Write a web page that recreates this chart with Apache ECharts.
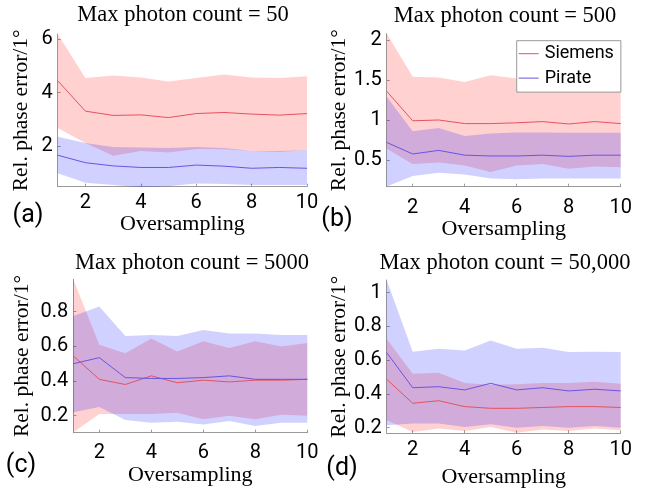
<!DOCTYPE html>
<html><head><meta charset="utf-8">
<script src="https://cdn.jsdelivr.net/npm/echarts@6/dist/echarts.min.js"></script>
<style>html,body{margin:0;padding:0;background:#fff}#c{width:648px;height:492px}</style>
</head><body><div id="c"></div>
<script>
// ---- data ----
const oversampling = ['1','2','3','4','5','6','7','8','9','10'];
const xTickLabels = ['2','4','6','8','10'];

// (a) max photon count = 50
const aSiemensMean = [4.45, 3.31, 3.15, 3.17, 3.07, 3.22, 3.26, 3.2, 3.16, 3.22];
const aSiemensUpper = [6.2, 4.55, 4.65, 4.57, 4.42, 4.55, 4.68, 4.57, 4.55, 4.62];
const aSiemensLower = [2.68, 2.12, 1.64, 1.82, 1.76, 1.89, 1.88, 1.82, 1.78, 1.85];
const aPirateMean = [1.66, 1.38, 1.26, 1.2, 1.2, 1.29, 1.25, 1.17, 1.2, 1.17];
const aPirateUpper = [2.35, 2.12, 1.97, 1.95, 1.93, 1.97, 1.93, 1.82, 1.82, 1.85];
const aPirateLower = [0.98, 0.63, 0.54, 0.46, 0.5, 0.6, 0.58, 0.54, 0.54, 0.54];
const aYTicks = [2, 4, 6];

// (b) max photon count = 500
const bSiemensMean = [1.36, 0.99, 1.0, 0.955, 0.955, 0.965, 0.98, 0.95, 0.98, 0.955];
const bSiemensUpper = [2.08, 1.54, 1.53, 1.475, 1.56, 1.52, 1.51, 1.5, 1.5, 1.5];
const bSiemensLower = [0.64, 0.45, 0.47, 0.43, 0.35, 0.43, 0.45, 0.39, 0.42, 0.41];
const bPirateMean = [0.72, 0.575, 0.62, 0.56, 0.55, 0.55, 0.56, 0.545, 0.56, 0.56];
const bPirateUpper = [1.29, 0.86, 0.9, 0.8, 0.83, 0.845, 0.845, 0.84, 0.84, 0.84];
const bPirateLower = [0.17, 0.3, 0.34, 0.32, 0.27, 0.26, 0.27, 0.27, 0.27, 0.27];
const bYTicks = [0.5, 1, 1.5, 2];

// (c) max photon count = 5000
const cSiemensMean = [0.545, 0.41, 0.38, 0.43, 0.39, 0.405, 0.395, 0.405, 0.405, 0.41];
const cSiemensUpper = [0.987, 0.61, 0.56, 0.645, 0.57, 0.63, 0.59, 0.63, 0.6, 0.62];
const cSiemensLower = [0.105, 0.21, 0.21, 0.21, 0.217, 0.18, 0.2, 0.18, 0.205, 0.2];
const cPirateMean = [0.5, 0.535, 0.42, 0.415, 0.415, 0.42, 0.43, 0.41, 0.41, 0.41];
const cPirateUpper = [0.775, 0.83, 0.66, 0.665, 0.66, 0.695, 0.675, 0.675, 0.665, 0.665];
const cPirateLower = [0.22, 0.25, 0.175, 0.16, 0.165, 0.15, 0.17, 0.14, 0.16, 0.16];
const cYTicks = [0.2, 0.4, 0.6, 0.8];

// (d) max photon count = 50,000
const dSiemensMean = [0.487, 0.345, 0.36, 0.325, 0.315, 0.315, 0.32, 0.325, 0.325, 0.32];
const dSiemensUpper = [0.726, 0.52, 0.525, 0.465, 0.455, 0.457, 0.465, 0.465, 0.473, 0.46];
const dSiemensLower = [0.245, 0.175, 0.195, 0.18, 0.205, 0.17, 0.19, 0.18, 0.195, 0.185];
const dPirateMean = [0.645, 0.437, 0.443, 0.424, 0.463, 0.424, 0.437, 0.418, 0.428, 0.418];
const dPirateUpper = [1.075, 0.65, 0.668, 0.657, 0.716, 0.668, 0.674, 0.649, 0.65, 0.649];
const dPirateLower = [0.215, 0.225, 0.225, 0.205, 0.22, 0.2, 0.21, 0.2, 0.21, 0.2];
const dYTicks = [0.2, 0.4, 0.6, 0.8, 1];

const titles = ['Max photon count = 50', 'Max photon count = 500', 'Max photon count = 5000', 'Max photon count = 50,000'];
const panelLabels = ['(a)', '(b)', '(c)', '(d)'];
const seriesNames = ['Siemens', 'Pirate'];
const xName = 'Oversampling';
const yName = 'Rel. phase error/1°';

// ---- layout / style ----
const SERIF = '"Liberation Serif", "Times New Roman", serif';
const SANS = 'Roboto, "Noto Sans", sans-serif';
const RED = 'rgb(228,82,96)';
const BLUE = 'rgb(104,84,228)';
const RED_FILL = 'rgba(255,0,0,0.18)';
const BLUE_FILL = 'rgba(0,0,255,0.18)';
const AXIS_COLOR = '#9a9a9a';

const panels = [
  {data:[aSiemensMean,aSiemensLower,aSiemensUpper,aPirateMean,aPirateLower,aPirateUpper], ticks:aYTicks,
   grid:{left:57.7, top:34, width:249.3, height:152.7}, ymin:0.48, ymax:6.2,
   xMargin:6, xGap:23, yGap:25, title:[183,15], lab:[28,216]},
  {data:[bSiemensMean,bSiemensLower,bSiemensUpper,bPirateMean,bPirateLower,bPirateUpper], ticks:bYTicks,
   grid:{left:386.7, top:33.6, width:234, height:153.1}, ymin:0.166, ymax:2.08,
   xMargin:11, xGap:30, yGap:36, title:[505,16.5], lab:[337,220]},
  {data:[cSiemensMean,cSiemensLower,cSiemensUpper,cPirateMean,cPirateLower,cPirateUpper], ticks:cYTicks,
   grid:{left:73.3, top:279.3, width:234, height:153.4}, ymin:0.102, ymax:0.987,
   xMargin:10, xGap:32, yGap:40, title:[192,263], lab:[21,466]},
  {data:[dSiemensMean,dSiemensLower,dSiemensUpper,dPirateMean,dPirateLower,dPirateUpper], ticks:dYTicks,
   grid:{left:386.7, top:280, width:234, height:153.3}, ymin:0.167, ymax:1.075,
   xMargin:7, xGap:33, yGap:36, title:[505,263], lab:[342,469]}
];

const grid = [], xAxis = [], yAxis = [], series = [], graphic = [];
const evenIdx = (i) => oversampling[i] !== undefined && xTickLabels.indexOf(oversampling[i]) >= 0;

panels.forEach((p, k) => {
  grid.push(Object.assign({containLabel:false}, p.grid));
  xAxis.push({
    gridIndex:k, type:'category', data:oversampling, boundaryGap:false,
    name:xName, nameLocation:'middle', nameGap:p.xGap,
    nameTextStyle:{fontFamily:SERIF, fontSize:22, color:'#000'},
    axisLine:{lineStyle:{color:AXIS_COLOR, width:1}},
    axisTick:{inside:true, length:3, lineStyle:{color:AXIS_COLOR}, interval:(i)=>evenIdx(i)},
    axisLabel:{interval:(i)=>evenIdx(i), margin:p.xMargin, fontFamily:SANS, fontSize:20, color:'#000'},
    splitLine:{show:false}
  });
  yAxis.push({
    gridIndex:k, type:'value', min:p.ymin, max:p.ymax,
    name:yName, nameLocation:'middle', nameGap:p.yGap, nameRotate:90,
    nameTextStyle:{fontFamily:SERIF, fontSize:21.5, color:'#000'},
    axisLine:{show:true, lineStyle:{color:AXIS_COLOR, width:1}},
    axisTick:{show:true, inside:true, length:3, lineStyle:{color:AXIS_COLOR}, customValues:p.ticks},
    axisLabel:{customValues:p.ticks, margin:5, fontFamily:SANS, fontSize:20, color:'#000'},
    splitLine:{show:false}
  });
  const [sm, sl, su, pm, pl, pu] = p.data;
  const band = (lo, up, fill, id) => {
    series.push({type:'line', xAxisIndex:k, yAxisIndex:k, stack:id, data:lo.slice(),
      symbol:'none', lineStyle:{opacity:0}, silent:true, z:1});
    series.push({type:'line', xAxisIndex:k, yAxisIndex:k, stack:id, data:up.map((v,i)=>v-lo[i]),
      symbol:'none', lineStyle:{opacity:0}, areaStyle:{color:fill, opacity:1}, silent:true, z:1});
  };
  band(sl, su, RED_FILL, 'sie'+k);
  band(pl, pu, BLUE_FILL, 'pir'+k);
  series.push({name:seriesNames[0], type:'line', xAxisIndex:k, yAxisIndex:k, data:sm.slice(), symbol:'none',
    color:RED, lineStyle:{color:RED, width:1}, z:3});
  series.push({name:seriesNames[1], type:'line', xAxisIndex:k, yAxisIndex:k, data:pm.slice(), symbol:'none',
    color:BLUE, lineStyle:{color:BLUE, width:1}, z:3});
  graphic.push({type:'text', x:p.title[0], y:p.title[1], style:{text:titles[k], font:'22.5px ' + SERIF,
    fill:'#000', textAlign:'center', textVerticalAlign:'middle'}});
  graphic.push({type:'text', x:p.lab[0], y:p.lab[1], style:{text:panelLabels[k], font:'25px ' + SANS,
    fill:'#000', textAlign:'center', textVerticalAlign:'middle'}});
});

const chart = echarts.init(document.getElementById('c'), null, {renderer:'canvas'});
chart.setOption({
  animation:false,
  backgroundColor:'#fff',
  grid, xAxis, yAxis, series, graphic,
  legend:{
    data:seriesNames, orient:'vertical', left:516.7, top:40.7,
    icon:'path://M0,0L20,0L20,1L0,1Z', itemWidth:22, itemHeight:1, itemGap:6.4,
    padding:[4,7,5,2], backgroundColor:'#fff', borderColor:'#999', borderWidth:1,
    textStyle:{fontFamily:SANS, fontSize:18, color:'#000', lineHeight:17},
    selectedMode:false
  }
});
</script>
</body></html>
